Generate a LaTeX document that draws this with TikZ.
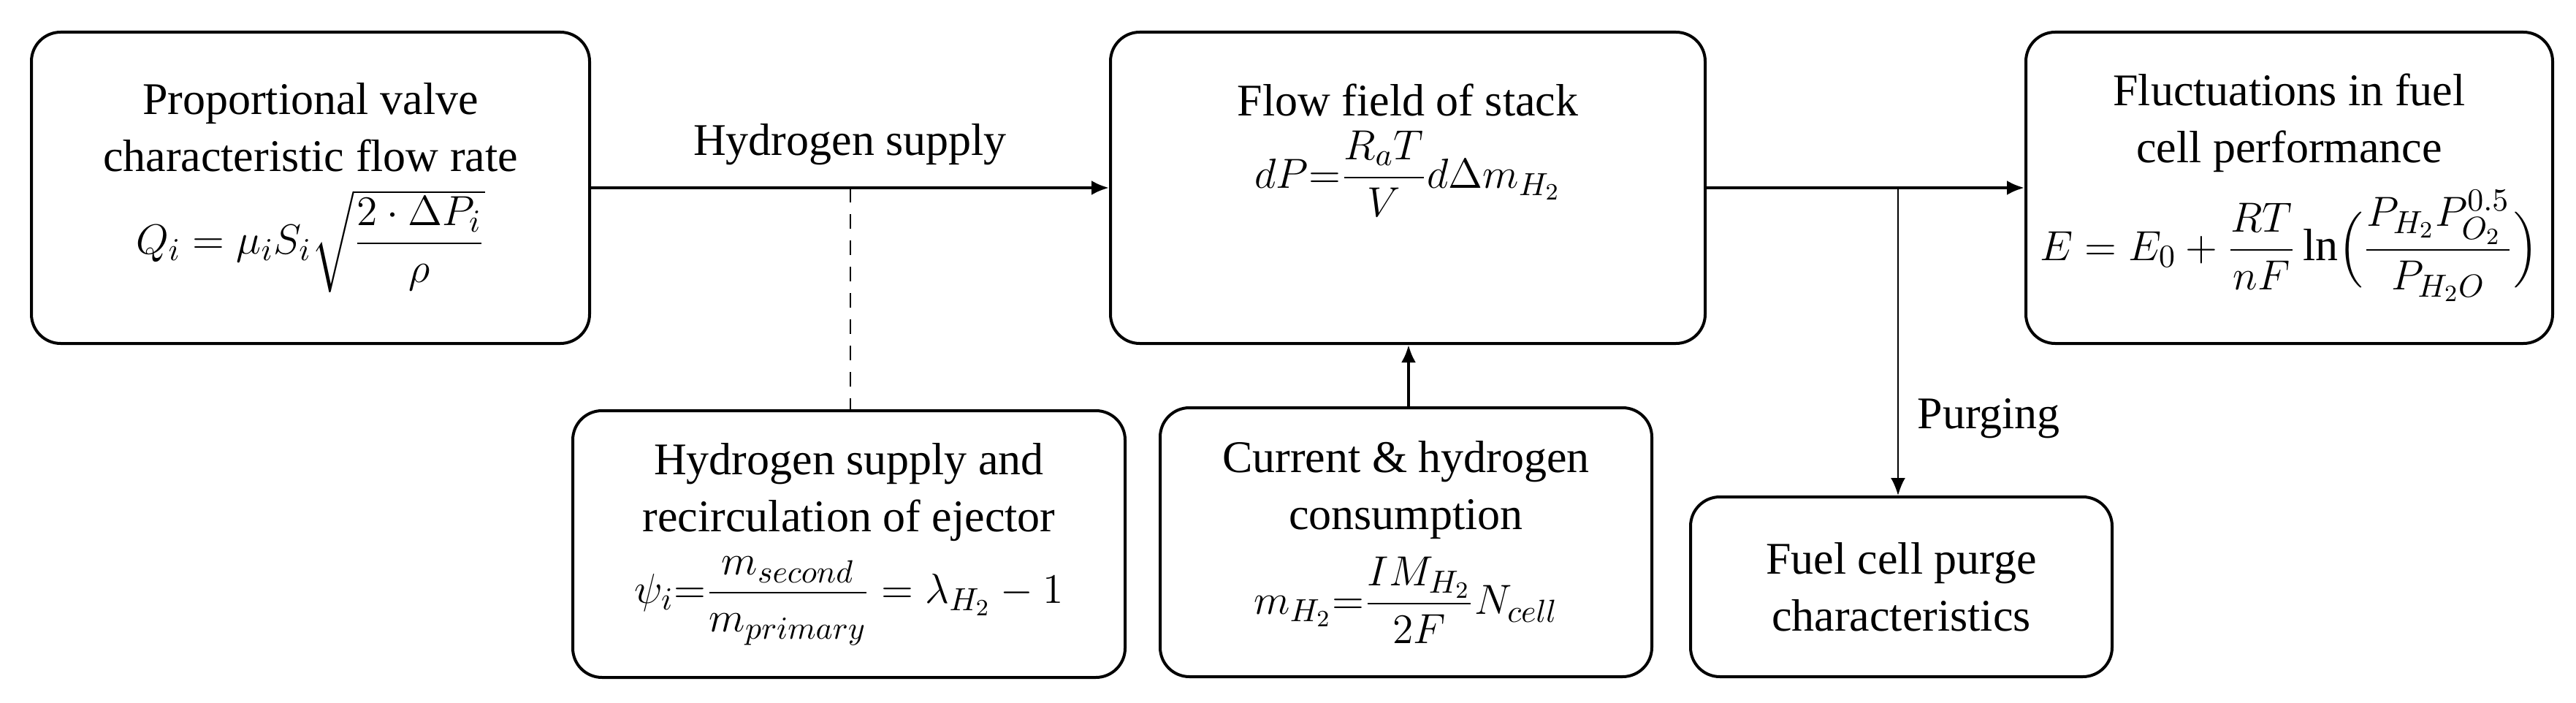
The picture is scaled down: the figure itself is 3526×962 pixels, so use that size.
\documentclass[tikz,border=0pt]{standalone}
\usepackage{amsmath}
\usepackage{fontspec}
\setmainfont{Liberation Serif}
\usetikzlibrary{arrows.meta}
\begin{document}
\begin{tikzpicture}[x=0.25pt,y=-0.25pt,
  box/.style={draw,line width=1pt,rounded corners=10pt,align=center,inner sep=2pt,
    font=\fontsize{15.5}{19.5}\selectfont},
  arr/.style={-{Latex[length=6pt,width=5pt]},line width=1pt}]
\useasboundingbox (0,0) rectangle (3526,962);
\node[box,minimum width=191pt,minimum height=106.5pt] (pv) at (425,257)
 {Proportional valve\\characteristic flow rate\\[5pt] $Q_i=\mu_i S_i\sqrt{\dfrac{2\cdot\Delta P_i}{\rho}}$};
\node[box,minimum width=203.5pt,minimum height=106.5pt] (ff) at (1927,257)
 {Flow field of stack\\[4pt] $dP{=}\dfrac{R_aT}{V}d\Delta m_{H_2}$\\[16pt]};
\node[box,minimum width=180.25pt,minimum height=106.5pt] (fl) at (3133.5,257)
 {Fluctuations in fuel\\cell performance\\[5pt] $E=E_0+\dfrac{RT}{nF}\ln\Bigl(\dfrac{P_{H_2}P_{O_2}^{0.5}}{P_{H_2O}}\Bigr)$};
\node[box,minimum width=189pt,minimum height=91.25pt] (hs) at (1162,744.5)
 {Hydrogen supply and\\recirculation of ejector\\[5pt] $\psi_i{=}\dfrac{m_{second}}{m_{primary}}=\lambda_{H_2}-1$};
\node[box,minimum width=168.25pt,minimum height=92pt] (cu) at (1924.5,742)
 {Current \& hydrogen\\consumption\\[5pt] $m_{H_2}{=}\dfrac{IM_{H_2}}{2F}N_{cell}$};
\node[box,minimum width=144.25pt,minimum height=61.5pt] (pu) at (2602.5,803)
 {Fuel cell purge\\characteristics};
\draw[arr] (pv.east) -- node[pos=0.5,above=4pt,font=\fontsize{15.5}{19.5}\selectfont] {Hydrogen supply} (ff.west);
\coordinate (dj) at (1164,257);
\draw[dashed,line width=0.6pt,dash pattern=on 5pt off 4pt] (dj) -- (hs.north -| dj);
\coordinate (cx) at (1928,0);
\draw[arr] (cu.north -| cx) -- (ff.south -| cx);
\draw[arr] (ff.east) -- (fl.west);
\coordinate (br) at (2598,257);
\draw[-{Latex[length=6pt,width=5pt]},line width=0.6pt] (br) -- node[pos=0.75,right=3pt,font=\fontsize{15.5}{19.5}\selectfont] {Purging} (pu.north -| br);
\end{tikzpicture}
\end{document}
